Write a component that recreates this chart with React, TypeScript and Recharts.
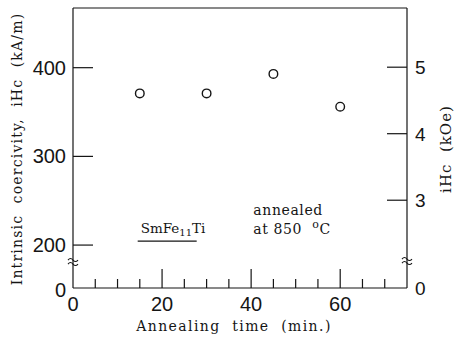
import React from "react";
import {
  ScatterChart,
  Scatter,
  XAxis,
  YAxis,
  ReferenceDot,
  ReferenceLine,
  Label,
} from "recharts";

// annealing time (min.) and intrinsic coercivity iHc (kA/m)
const annealTime = [15, 30, 45, 60];
const coercivity = [371, 371, 393, 356];

// broken axes: bottom tick is shown as "0"
const leftDomain = [151.6, 467.3];
const leftTicks = [151.6, 200, 300, 400];
const leftTickLabels = ["0", "200", "300", "400"];
const rightDomain = [1.68, 5.89];
const rightTicks = [1.68, 3, 4, 5];
const rightTickLabels = ["0", "3", "4", "5"];
const timeTicks = [0, 5, 10, 15, 20, 25, 30, 35, 40, 45, 50, 55, 60, 65, 70];
const timeLabels = [0, 20, 40, 60];

const data = annealTime.map((t, i) => ({ time: t, ihc: coercivity[i] }));

const INK = "#151515";
const NUM_FONT = "'Liberation Sans', Arial, sans-serif";
const TXT_FONT = "'DejaVu Serif', serif";
const pre = { whiteSpace: "pre" } as const;

const LeftTick = (props: any) => {
  const { x, y, payload } = props;
  const i = leftTicks.indexOf(payload.value);
  const base = i === 0;
  return (
    <g>
      {!base && <line x1={x} x2={x + 20} y1={y} y2={y} stroke={INK} strokeWidth={1.2} />}
      <text x={x - 7} y={y + (base ? 9 : 7)} textAnchor="end" fontSize={20} fontFamily={NUM_FONT} fill={INK}>
        {leftTickLabels[i]}
      </text>
    </g>
  );
};

const RightTick = (props: any) => {
  const { x, y, payload } = props;
  const i = rightTicks.indexOf(payload.value);
  const base = i === 0;
  return (
    <g>
      {!base && <line x1={x - 20} x2={x} y1={y} y2={y} stroke={INK} strokeWidth={1.2} />}
      <text x={x + 8} y={y + 7} textAnchor="start" fontSize={19} fontFamily={NUM_FONT} fill={INK}>
        {rightTickLabels[i]}
      </text>
    </g>
  );
};

const TimeTick = (props: any) => {
  const { x, y, payload } = props;
  const v = payload.value;
  const major = v % 20 === 0;
  return (
    <g>
      {v !== 0 && (
        <line x1={x} x2={x} y1={y} y2={y - (major ? 19 : 9)} stroke={INK} strokeWidth={1.2} />
      )}
      {timeLabels.includes(v) && (
        <text x={x} y={y + 23} textAnchor="middle" fontSize={20} fontFamily={NUM_FONT} fill={INK}>
          {v}
        </text>
      )}
    </g>
  );
};

const BreakMark = (props: any) => {
  const { cx, cy } = props;
  return (
    <g fill="none" stroke={INK} strokeWidth={1.1}>
      <path d={`M${cx - 5},${cy - 1} q2.5,-3 5,0 t5,0`} />
      <path d={`M${cx - 5},${cy + 3} q2.5,-3 5,0 t5,0`} />
    </g>
  );
};

const App = () => (
  <div style={{ position: "absolute", left: 0, top: 0 }}>
    <ScatterChart
      width={461}
      height={341}
      margin={{ top: 8, right: 0, bottom: 0, left: 0 }}
      style={{ background: "#fff" }}
    >
      <XAxis
        type="number"
        dataKey="time"
        domain={[0, 75]}
        ticks={timeTicks}
        interval={0}
        height={53}
        tickSize={0}
        tickMargin={0}
        tickLine={false}
        tick={<TimeTick />}
        axisLine={{ stroke: INK, strokeWidth: 1.2 }}
      >
        <Label
          content={(p: any) => {
            const vb = p.viewBox;
            return (
              <text
                x={vb.x + vb.width / 2 - 6}
                y={vb.y + 43}
                textAnchor="middle"
                fontFamily={TXT_FONT}
                fontSize={14}
                letterSpacing={1.4}
                style={pre}
                fill={INK}
              >
                Annealing  time  (min.)
              </text>
            );
          }}
        />
      </XAxis>
      <YAxis
        yAxisId="left"
        type="number"
        dataKey="ihc"
        domain={leftDomain}
        ticks={leftTicks}
        interval={0}
        allowDataOverflow
        width={73}
        tickSize={0}
        tickMargin={0}
        tickLine={false}
        tick={<LeftTick />}
        axisLine={{ stroke: INK, strokeWidth: 1.2 }}
      >
        <Label
          content={(p: any) => {
            const vb = p.viewBox;
            const cx = vb.x + 17;
            const cy = vb.y + 141;
            return (
              <text
                x={cx}
                y={cy}
                transform={`rotate(-90, ${cx}, ${cy})`}
                textAnchor="middle"
                dominantBaseline="central"
                fontFamily={TXT_FONT}
                fontSize={14}
                letterSpacing={1.2}
                style={pre}
                fill={INK}
              >
                Intrinsic  coercivity,  iHc  (kA/m)
              </text>
            );
          }}
        />
      </YAxis>
      <YAxis
        yAxisId="right"
        orientation="right"
        type="number"
        domain={rightDomain}
        ticks={rightTicks}
        interval={0}
        allowDataOverflow
        width={54}
        tickSize={0}
        tickMargin={0}
        tickLine={false}
        tick={<RightTick />}
        axisLine={{ stroke: INK, strokeWidth: 1.2 }}
      >
        <Label
          content={(p: any) => {
            const vb = p.viewBox;
            const cx = vb.x + 39;
            const cy = vb.y + 141;
            return (
              <text
                x={cx}
                y={cy}
                transform={`rotate(-90, ${cx}, ${cy})`}
                textAnchor="middle"
                dominantBaseline="central"
                fontFamily={TXT_FONT}
                fontSize={15}
                letterSpacing={1}
                style={pre}
                fill={INK}
              >
                iHc  (kOe)
              </text>
            );
          }}
        />
      </YAxis>
      <ReferenceLine yAxisId="left" y={leftDomain[1]} stroke={INK} strokeWidth={1.2} ifOverflow="visible" />
      <ReferenceDot yAxisId="left" x={0} y={182} r={0} ifOverflow="visible" shape={<BreakMark />} />
      <ReferenceDot yAxisId="right" x={75} y={2.1} r={0} ifOverflow="visible" shape={<BreakMark />} />
      <ReferenceDot
        yAxisId="left"
        x={15.2}
        y={213.5}
        r={0}
        ifOverflow="visible"
        shape={(p: any) => (
          <g fontFamily={TXT_FONT} fill={INK}>
            <text x={p.cx} y={p.cy} fontSize={13.5}>
              SmFe<tspan fontSize={10} dy={3}>11</tspan>
              <tspan dy={-3}>Ti</tspan>
            </text>
            <line x1={p.cx - 3} x2={p.cx + 56} y1={p.cy + 8} y2={p.cy + 8} stroke={INK} strokeWidth={1.2} />
          </g>
        )}
      />
      <ReferenceDot
        yAxisId="left"
        x={40.5}
        y={233.5}
        r={0}
        ifOverflow="visible"
        shape={(p: any) => (
          <g fontFamily={TXT_FONT} fill={INK} fontSize={14} letterSpacing={0.6}>
            <text x={p.cx} y={p.cy}>annealed</text>
            <text x={p.cx} y={p.cy + 19} style={pre}>
              at 850  <tspan fontSize={11} dy={-6}>o</tspan>
              <tspan dy={6}>C</tspan>
            </text>
          </g>
        )}
      />
      <Scatter
        yAxisId="left"
        data={data}
        isAnimationActive={false}
        shape={(p: any) => (
          <circle cx={p.cx} cy={p.cy} r={4.3} fill="#fff" stroke={INK} strokeWidth={1.4} />
        )}
      />
    </ScatterChart>
  </div>
);

export default App;
